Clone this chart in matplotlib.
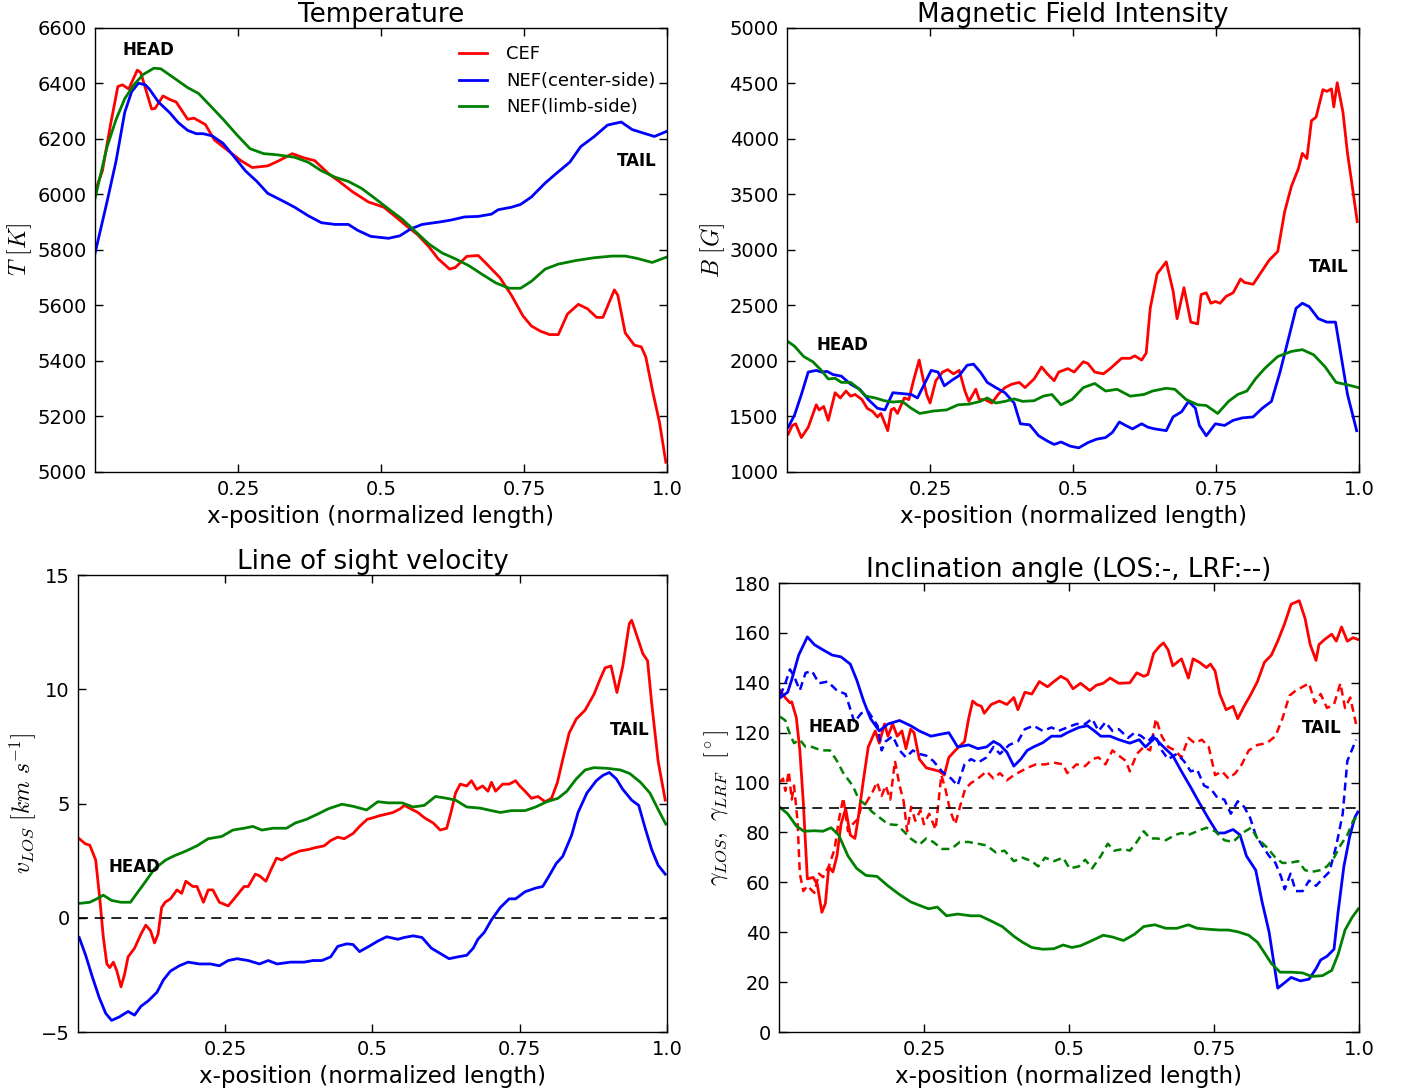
import numpy as np
import matplotlib
matplotlib.use("Agg")
import matplotlib.pyplot as plt

plt.rcParams['mathtext.fontset'] = 'cm'
plt.rcParams['font.family'] = 'DejaVu Sans'

# ---- Temperature (x, T[K]) ----
cef_T = [(0.0, 6010), (0.013, 6085), (0.027, 6250), (0.04, 6389), (0.048, 6395), (0.059, 6380),
         (0.074, 6448), (0.08, 6439), (0.099, 6308), (0.105, 6310), (0.119, 6355), (0.13, 6343),
         (0.142, 6333), (0.162, 6271), (0.173, 6275), (0.193, 6252), (0.209, 6196), (0.232, 6159),
         (0.255, 6122), (0.275, 6097), (0.302, 6103), (0.322, 6122), (0.345, 6147), (0.365, 6132),
         (0.384, 6122), (0.4, 6091), (0.41, 6072), (0.427, 6047), (0.45, 6010), (0.478, 5973),
         (0.505, 5954), (0.52, 5929), (0.545, 5886), (0.564, 5855), (0.584, 5811), (0.6, 5768),
         (0.62, 5731), (0.63, 5737), (0.65, 5777), (0.67, 5780), (0.685, 5749), (0.708, 5700),
         (0.728, 5637), (0.748, 5563), (0.763, 5526), (0.779, 5507), (0.795, 5495), (0.81, 5495),
         (0.826, 5569), (0.845, 5604), (0.861, 5588), (0.877, 5557), (0.888, 5557), (0.908, 5656),
         (0.914, 5637), (0.927, 5501), (0.943, 5457), (0.955, 5451), (0.963, 5414), (0.975, 5290),
         (0.987, 5178), (0.998, 5035)]
nefc_T = [(0.0, 5787), (0.021, 5973), (0.037, 6122), (0.052, 6296), (0.064, 6370), (0.076, 6401),
          (0.088, 6395), (0.095, 6380), (0.111, 6333), (0.13, 6296), (0.146, 6258), (0.162, 6231),
          (0.177, 6219), (0.189, 6219), (0.205, 6211), (0.224, 6184), (0.244, 6134), (0.263, 6085),
          (0.283, 6047), (0.302, 6004), (0.326, 5979), (0.349, 5954), (0.373, 5923), (0.396, 5898),
          (0.42, 5892), (0.443, 5892), (0.459, 5871), (0.482, 5849), (0.513, 5842), (0.533, 5851),
          (0.552, 5876), (0.572, 5892), (0.603, 5901), (0.623, 5908), (0.646, 5919), (0.67, 5921),
          (0.693, 5929), (0.705, 5945), (0.728, 5954), (0.744, 5964), (0.763, 5991), (0.787, 6041),
          (0.806, 6075), (0.83, 6116), (0.849, 6172), (0.873, 6209), (0.896, 6250), (0.92, 6261),
          (0.939, 6234), (0.959, 6221), (0.978, 6209), (0.999, 6227)]
nefl_T = [(0.0, 5985), (0.021, 6171), (0.037, 6271), (0.052, 6345), (0.068, 6395), (0.084, 6432),
          (0.103, 6455), (0.115, 6453), (0.138, 6420), (0.162, 6385), (0.181, 6364), (0.201, 6321),
          (0.224, 6271), (0.248, 6215), (0.271, 6165), (0.295, 6147), (0.318, 6143), (0.349, 6134),
          (0.373, 6116), (0.396, 6085), (0.42, 6062), (0.443, 6047), (0.466, 6022), (0.49, 5985),
          (0.513, 5948), (0.537, 5911), (0.56, 5867), (0.584, 5821), (0.607, 5789), (0.63, 5768),
          (0.654, 5743), (0.677, 5712), (0.701, 5681), (0.724, 5662), (0.744, 5662), (0.763, 5687),
          (0.787, 5731), (0.81, 5749), (0.841, 5762), (0.873, 5772), (0.904, 5778), (0.927, 5778),
          (0.947, 5770), (0.974, 5755), (0.999, 5774)]

# ---- Magnetic field (x, B[G]) ----
cef_B = [(0.002, 1341), (0.009, 1419), (0.015, 1434), (0.025, 1310), (0.037, 1403), (0.051, 1605),
         (0.056, 1559), (0.064, 1590), (0.072, 1465), (0.084, 1714), (0.093, 1667), (0.103, 1729),
         (0.111, 1683), (0.119, 1698), (0.131, 1652), (0.14, 1574), (0.15, 1543), (0.158, 1496),
         (0.164, 1527), (0.17, 1450), (0.176, 1372), (0.182, 1559), (0.187, 1574), (0.193, 1527),
         (0.205, 1667), (0.213, 1652), (0.221, 1822), (0.231, 2008), (0.236, 1884), (0.244, 1698),
         (0.25, 1621), (0.26, 1822), (0.272, 1900), (0.281, 1922), (0.291, 1884), (0.301, 1915),
         (0.311, 1729), (0.318, 1636), (0.33, 1745), (0.336, 1652), (0.346, 1652), (0.358, 1621),
         (0.369, 1698), (0.381, 1760), (0.393, 1791), (0.406, 1807), (0.416, 1760), (0.432, 1838),
         (0.445, 1946), (0.455, 1884), (0.467, 1822), (0.475, 1900), (0.491, 1931), (0.502, 1900),
         (0.518, 1993), (0.526, 1977), (0.538, 1900), (0.553, 1884), (0.565, 1931), (0.585, 2024),
         (0.6, 2024), (0.608, 2046), (0.62, 2008), (0.628, 2071), (0.635, 2474), (0.647, 2784),
         (0.663, 2893), (0.675, 2629), (0.682, 2381), (0.694, 2660), (0.706, 2350), (0.718, 2334),
         (0.724, 2598), (0.733, 2614), (0.741, 2520), (0.749, 2536), (0.757, 2520), (0.768, 2583),
         (0.78, 2614), (0.793, 2738), (0.8, 2707), (0.815, 2691), (0.827, 2784), (0.843, 2908),
         (0.858, 2986), (0.87, 3343), (0.882, 3575), (0.894, 3731), (0.901, 3870), (0.909, 3824),
         (0.917, 4165), (0.925, 4196), (0.937, 4444), (0.944, 4429), (0.952, 4451), (0.956, 4289),
         (0.962, 4506), (0.972, 4243), (0.98, 3870), (0.987, 3622), (0.997, 3256)]
nefc_B = [(0.002, 1403), (0.013, 1512), (0.025, 1698), (0.037, 1900), (0.051, 1915), (0.06, 1900),
          (0.07, 1906), (0.08, 1878), (0.095, 1863), (0.111, 1791), (0.127, 1745), (0.142, 1652),
          (0.158, 1574), (0.171, 1559), (0.185, 1714), (0.205, 1704), (0.217, 1698), (0.228, 1667),
          (0.24, 1791), (0.252, 1915), (0.264, 1900), (0.275, 1776), (0.287, 1822), (0.301, 1869),
          (0.315, 1962), (0.326, 1971), (0.338, 1900), (0.35, 1807), (0.365, 1760), (0.381, 1714),
          (0.397, 1621), (0.408, 1434), (0.424, 1425), (0.44, 1326), (0.455, 1279), (0.467, 1248),
          (0.479, 1270), (0.495, 1233), (0.51, 1217), (0.526, 1264), (0.541, 1295), (0.557, 1310),
          (0.569, 1357), (0.581, 1450), (0.592, 1419), (0.604, 1388), (0.62, 1434), (0.631, 1403),
          (0.643, 1388), (0.663, 1372), (0.675, 1496), (0.69, 1543), (0.702, 1636), (0.714, 1574),
          (0.721, 1419), (0.733, 1326), (0.749, 1434), (0.765, 1419), (0.78, 1465), (0.796, 1487),
          (0.815, 1496), (0.831, 1574), (0.847, 1636), (0.862, 1900), (0.878, 2226), (0.89, 2474),
          (0.901, 2520), (0.913, 2489), (0.929, 2381), (0.944, 2350), (0.959, 2350), (0.968, 2071),
          (0.98, 1698), (0.996, 1372)]
nefl_B = [(0.002, 2173), (0.013, 2133), (0.029, 2040), (0.045, 1993), (0.06, 1915), (0.072, 1838),
          (0.084, 1844), (0.095, 1807), (0.111, 1807), (0.123, 1760), (0.138, 1683), (0.154, 1667),
          (0.17, 1642), (0.185, 1630), (0.201, 1636), (0.217, 1574), (0.232, 1527), (0.256, 1549),
          (0.279, 1559), (0.299, 1605), (0.318, 1611), (0.338, 1636), (0.35, 1667), (0.365, 1621),
          (0.381, 1636), (0.397, 1658), (0.412, 1636), (0.432, 1642), (0.448, 1683), (0.463, 1698),
          (0.479, 1605), (0.498, 1652), (0.518, 1760), (0.538, 1797), (0.557, 1729), (0.577, 1745),
          (0.6, 1683), (0.624, 1698), (0.639, 1729), (0.663, 1754), (0.678, 1745), (0.698, 1652),
          (0.718, 1605), (0.733, 1599), (0.753, 1527), (0.772, 1636), (0.788, 1698), (0.804, 1729),
          (0.819, 1838), (0.835, 1931), (0.858, 2040), (0.882, 2086), (0.901, 2102), (0.921, 2055),
          (0.941, 1946), (0.96, 1807), (0.98, 1785), (0.999, 1760)]

# ---- LOS velocity (x, v[km/s]) ----
cef_v = [(0.002, 3.46), (0.013, 3.23), (0.02, 3.18), (0.03, 2.53), (0.037, 0.83), (0.043, -0.86),
         (0.049, -2.02), (0.054, -2.18), (0.06, -1.94), (0.066, -2.33), (0.073, -3.02), (0.079, -2.48),
         (0.085, -1.71), (0.096, -1.33), (0.107, -0.71), (0.115, -0.32), (0.123, -0.56), (0.13, -1.1),
         (0.136, -0.71), (0.142, 0.45), (0.148, 0.68), (0.157, 0.83), (0.168, 1.22), (0.176, 1.07),
         (0.183, 1.6), (0.195, 1.37), (0.202, 1.37), (0.213, 0.68), (0.221, 1.22), (0.229, 1.22),
         (0.24, 0.68), (0.255, 0.52), (0.27, 0.99), (0.282, 1.37), (0.289, 1.37), (0.301, 1.91),
         (0.308, 1.84), (0.319, 1.6), (0.327, 2.07), (0.337, 2.61), (0.346, 2.53), (0.361, 2.76),
         (0.376, 2.92), (0.391, 2.99), (0.403, 3.07), (0.418, 3.15), (0.429, 3.38), (0.441, 3.53),
         (0.452, 3.46), (0.467, 3.69), (0.478, 4.0), (0.491, 4.31), (0.501, 4.38), (0.511, 4.46),
         (0.524, 4.54), (0.535, 4.61), (0.547, 4.77), (0.554, 4.92), (0.565, 4.77), (0.577, 4.61),
         (0.588, 4.38), (0.603, 4.15), (0.615, 3.84), (0.626, 3.92), (0.634, 4.69), (0.641, 5.46),
         (0.649, 5.85), (0.66, 5.77), (0.668, 6.0), (0.677, 5.62), (0.687, 5.77), (0.696, 5.54),
         (0.702, 5.93), (0.709, 5.54), (0.721, 5.85), (0.732, 5.85), (0.743, 6.0), (0.75, 5.77),
         (0.759, 5.54), (0.77, 5.23), (0.781, 5.31), (0.793, 5.08), (0.804, 5.23), (0.814, 5.93),
         (0.823, 6.93), (0.834, 8.09), (0.846, 8.7), (0.861, 9.09), (0.876, 9.78), (0.887, 10.48),
         (0.895, 10.94), (0.905, 11.02), (0.915, 9.86), (0.925, 11.02), (0.936, 12.87), (0.94, 13.02),
         (0.948, 12.41), (0.959, 11.56), (0.967, 11.25), (0.974, 9.4), (0.985, 6.85), (0.997, 5.15)]
nefc_v = [(0.002, -0.86), (0.013, -1.64), (0.024, -2.56), (0.036, -3.49), (0.047, -4.18), (0.057, -4.49),
          (0.07, -4.34), (0.085, -4.1), (0.096, -4.26), (0.107, -3.87), (0.119, -3.64), (0.134, -3.26),
          (0.145, -2.72), (0.157, -2.33), (0.172, -2.1), (0.187, -1.94), (0.206, -2.02), (0.225, -2.02),
          (0.24, -2.1), (0.255, -1.87), (0.27, -1.79), (0.289, -1.87), (0.308, -2.02), (0.323, -1.87),
          (0.338, -2.02), (0.361, -1.94), (0.384, -1.94), (0.399, -1.87), (0.414, -1.87), (0.429, -1.71),
          (0.441, -1.25), (0.456, -1.14), (0.467, -1.17), (0.478, -1.48), (0.494, -1.25), (0.509, -1.02),
          (0.524, -0.83), (0.543, -0.94), (0.554, -0.86), (0.569, -0.79), (0.584, -0.86), (0.6, -1.33),
          (0.615, -1.56), (0.63, -1.79), (0.645, -1.71), (0.66, -1.64), (0.671, -1.33), (0.679, -0.94),
          (0.69, -0.63), (0.702, -0.09), (0.717, 0.45), (0.732, 0.83), (0.743, 0.83), (0.759, 1.14),
          (0.777, 1.3), (0.789, 1.37), (0.8, 1.84), (0.812, 2.38), (0.823, 2.69), (0.838, 3.61),
          (0.849, 4.61), (0.864, 5.46), (0.88, 6.0), (0.891, 6.23), (0.902, 6.36), (0.914, 6.08),
          (0.925, 5.62), (0.94, 5.15), (0.952, 4.92), (0.963, 3.92), (0.974, 2.99), (0.985, 2.3),
          (0.997, 1.91)]
nefl_v = [(0.002, 0.63), (0.02, 0.68), (0.032, 0.83), (0.043, 0.99), (0.057, 0.76), (0.073, 0.68),
          (0.089, 0.68), (0.1, 1.07), (0.115, 1.6), (0.13, 2.15), (0.149, 2.53), (0.164, 2.72),
          (0.183, 2.92), (0.202, 3.15), (0.221, 3.46), (0.244, 3.56), (0.263, 3.84), (0.282, 3.92),
          (0.297, 4.0), (0.312, 3.84), (0.331, 3.92), (0.354, 3.92), (0.369, 4.15), (0.388, 4.31),
          (0.407, 4.54), (0.425, 4.77), (0.448, 4.97), (0.467, 4.88), (0.49, 4.72), (0.509, 5.08),
          (0.527, 5.03), (0.55, 5.03), (0.569, 4.85), (0.588, 4.92), (0.607, 5.31), (0.626, 5.23),
          (0.641, 5.15), (0.66, 4.85), (0.683, 4.8), (0.702, 4.69), (0.717, 4.61), (0.736, 4.69),
          (0.759, 4.69), (0.777, 4.85), (0.796, 5.08), (0.815, 5.23), (0.83, 5.54), (0.846, 6.08),
          (0.861, 6.47), (0.876, 6.57), (0.899, 6.54), (0.921, 6.47), (0.937, 6.31), (0.955, 5.93),
          (0.971, 5.46), (0.986, 4.69), (0.998, 4.1)]

# ---- Inclination (x, gamma[deg]); solid = LOS, dashed = LRF ----
cef_g_los = [(0.002, 137.0), (0.011, 134.0), (0.019, 132.0), (0.022, 132.4), (0.03, 126.0), (0.036, 113.0),
             (0.042, 92.0), (0.049, 61.4), (0.059, 62.0), (0.066, 59.3), (0.074, 48.0), (0.08, 51.5),
             (0.086, 66.3), (0.093, 64.2), (0.1, 70.6), (0.107, 83.3), (0.115, 89.6), (0.123, 79.0),
             (0.131, 77.6), (0.136, 84.7), (0.146, 101.6), (0.154, 114.3), (0.166, 120.7), (0.173, 115.8),
             (0.182, 123.5), (0.188, 118.6), (0.196, 123.5), (0.204, 118.6), (0.212, 120.7), (0.219, 113.6),
             (0.227, 121.4), (0.233, 120.0), (0.242, 109.4), (0.254, 105.9), (0.266, 105.2), (0.277, 104.5),
             (0.285, 103.0), (0.293, 110.1), (0.304, 112.9), (0.32, 116.5), (0.327, 125.6), (0.334, 132.7),
             (0.341, 131.3), (0.349, 130.6), (0.354, 127.8), (0.366, 131.3), (0.38, 132.7), (0.393, 131.3),
             (0.405, 134.1), (0.412, 129.2), (0.424, 136.2), (0.436, 135.5), (0.449, 140.5), (0.463, 138.4),
             (0.474, 140.5), (0.486, 142.6), (0.497, 141.2), (0.507, 137.6), (0.52, 139.8), (0.536, 136.9),
             (0.547, 139.0), (0.559, 139.8), (0.571, 141.9), (0.586, 139.8), (0.605, 140.0), (0.617, 144.0),
             (0.629, 142.6), (0.636, 143.3), (0.646, 151.8), (0.656, 154.6), (0.663, 156.0), (0.671, 153.2),
             (0.679, 146.8), (0.694, 149.6), (0.706, 141.9), (0.714, 149.6), (0.725, 148.2), (0.737, 146.1),
             (0.744, 147.5), (0.752, 144.7), (0.76, 135.5), (0.771, 129.2), (0.783, 130.6), (0.791, 125.6),
             (0.802, 130.6), (0.814, 135.5), (0.825, 140.5), (0.837, 148.2), (0.849, 151.1), (0.86, 156.7),
             (0.872, 163.8), (0.883, 171.5), (0.897, 172.9), (0.907, 165.9), (0.916, 155.3), (0.926, 149.0),
             (0.931, 155.3), (0.941, 157.4), (0.953, 159.5), (0.961, 156.7), (0.97, 162.4), (0.98, 156.7),
             (0.99, 158.1), (0.998, 157.4)]
cef_g_lrf = [(0.002, 100.2), (0.007, 101.6), (0.011, 96.7), (0.017, 104.5), (0.022, 93.2), (0.026, 98.8),
             (0.032, 84.7), (0.036, 63.5), (0.042, 56.5), (0.049, 58.6), (0.061, 55.8), (0.069, 63.5),
             (0.076, 62.1), (0.086, 66.4), (0.096, 73.4), (0.103, 84.7), (0.111, 93.9), (0.119, 80.5),
             (0.127, 83.3), (0.136, 85.4), (0.142, 90.3), (0.15, 91.8), (0.161, 96.0), (0.169, 100.2),
             (0.177, 94.6), (0.184, 98.8), (0.192, 93.2), (0.2, 108.7), (0.208, 98.8), (0.215, 92.5),
             (0.221, 80.5), (0.228, 90.3), (0.235, 84.7), (0.244, 88.9), (0.25, 83.3), (0.259, 87.5),
             (0.27, 81.2), (0.28, 103.0), (0.287, 97.4), (0.295, 88.9), (0.304, 83.3), (0.312, 90.3),
             (0.321, 97.4), (0.331, 99.8), (0.343, 101.6), (0.358, 104.5), (0.37, 101.6), (0.381, 103.8),
             (0.393, 100.9), (0.405, 103.0), (0.417, 104.5), (0.428, 105.9), (0.443, 107.3), (0.459, 107.3),
             (0.474, 108.0), (0.49, 107.3), (0.497, 103.8), (0.513, 107.3), (0.528, 106.6), (0.54, 109.4),
             (0.551, 110.1), (0.563, 107.3), (0.575, 112.9), (0.586, 110.8), (0.598, 108.7), (0.605, 104.5),
             (0.617, 111.5), (0.629, 114.3), (0.64, 112.9), (0.65, 125.6), (0.66, 118.6), (0.671, 114.3),
             (0.683, 112.9), (0.694, 110.1), (0.706, 117.9), (0.717, 115.8), (0.729, 117.2), (0.741, 114.3),
             (0.752, 103.0), (0.764, 104.5), (0.775, 101.6), (0.787, 103.8), (0.798, 107.3), (0.81, 112.9),
             (0.825, 115.1), (0.841, 115.8), (0.856, 118.6), (0.868, 125.6), (0.88, 134.8), (0.891, 136.9),
             (0.903, 138.4), (0.914, 139.8), (0.924, 132.0), (0.934, 135.5), (0.945, 129.9), (0.957, 131.3),
             (0.968, 139.8), (0.976, 129.9), (0.985, 134.1), (0.995, 123.5)]
nefc_g_los = [(0.002, 134.0), (0.015, 136.2), (0.022, 141.2), (0.034, 151.1), (0.049, 158.4), (0.061, 155.3),
              (0.076, 153.2), (0.092, 151.1), (0.107, 150.4), (0.123, 147.5), (0.134, 141.2), (0.146, 132.7),
              (0.158, 125.6), (0.173, 120.7), (0.188, 123.5), (0.208, 124.9), (0.227, 122.8), (0.242, 120.7),
              (0.262, 118.6), (0.277, 119.3), (0.293, 120.0), (0.308, 114.3), (0.327, 115.1), (0.343, 113.6),
              (0.358, 114.3), (0.37, 116.5), (0.381, 115.1), (0.393, 112.2), (0.405, 106.6), (0.417, 109.4),
              (0.428, 112.9), (0.439, 114.3), (0.455, 116.0), (0.47, 118.6), (0.486, 118.6), (0.497, 120.0),
              (0.517, 122.1), (0.532, 122.8), (0.544, 120.7), (0.555, 118.6), (0.571, 118.6), (0.586, 117.2),
              (0.605, 115.8), (0.621, 117.2), (0.632, 114.3), (0.648, 117.9), (0.663, 114.3), (0.679, 110.8),
              (0.694, 104.5), (0.71, 98.1), (0.725, 91.8), (0.741, 85.4), (0.756, 79.8), (0.768, 79.8),
              (0.783, 81.2), (0.795, 79.0), (0.806, 70.6), (0.822, 64.9), (0.833, 52.2), (0.845, 40.2),
              (0.86, 17.6), (0.872, 19.8), (0.883, 21.9), (0.899, 20.5), (0.914, 21.2), (0.926, 25.4),
              (0.934, 28.9), (0.945, 30.4), (0.957, 33.2), (0.964, 48.0), (0.974, 66.4), (0.984, 78.3),
              (0.993, 86.1), (0.998, 88.2)]
nefc_g_lrf = [(0.002, 134.8), (0.011, 139.8), (0.019, 145.4), (0.026, 142.6), (0.036, 137.0), (0.046, 144.0),
              (0.057, 144.7), (0.069, 139.8), (0.084, 140.5), (0.1, 136.9), (0.115, 135.5), (0.13, 124.2),
              (0.142, 127.8), (0.154, 128.5), (0.17, 122.8), (0.177, 112.9), (0.184, 116.5), (0.196, 118.6),
              (0.208, 112.9), (0.219, 110.1), (0.231, 112.9), (0.242, 111.5), (0.254, 110.8), (0.266, 108.7),
              (0.281, 104.5), (0.297, 101.6), (0.308, 98.8), (0.32, 107.3), (0.331, 109.4), (0.343, 108.0),
              (0.358, 110.1), (0.37, 114.3), (0.381, 111.5), (0.397, 115.1), (0.412, 116.5), (0.424, 121.4),
              (0.439, 122.8), (0.455, 120.7), (0.47, 122.1), (0.482, 120.7), (0.497, 122.1), (0.513, 123.5),
              (0.528, 123.5), (0.54, 125.6), (0.551, 120.7), (0.563, 124.2), (0.575, 120.7), (0.586, 121.4),
              (0.602, 117.9), (0.613, 120.0), (0.625, 118.6), (0.636, 116.5), (0.648, 119.3), (0.66, 112.9),
              (0.671, 109.4), (0.686, 111.5), (0.698, 108.7), (0.71, 104.5), (0.721, 105.2), (0.733, 98.8),
              (0.745, 97.4), (0.756, 93.9), (0.768, 93.2), (0.779, 87.5), (0.791, 92.5), (0.802, 90.3),
              (0.812, 86.1), (0.822, 79.0), (0.833, 74.8), (0.845, 70.6), (0.856, 67.8), (0.866, 62.1),
              (0.872, 57.2), (0.882, 63.5), (0.891, 56.5), (0.903, 56.5), (0.914, 60.7), (0.926, 58.6),
              (0.937, 61.4), (0.949, 64.2), (0.961, 74.8), (0.972, 87.5), (0.98, 108.7), (0.99, 114.3),
              (0.995, 117.2)]
nefl_g_los = [(0.002, 90.0), (0.015, 87.5), (0.03, 82.6), (0.043, 80.5), (0.061, 80.7), (0.076, 80.5),
              (0.09, 81.9), (0.103, 79.0), (0.119, 70.6), (0.134, 65.6), (0.15, 62.8), (0.169, 62.4),
              (0.188, 58.6), (0.208, 55.1), (0.227, 52.2), (0.242, 50.8), (0.258, 49.4), (0.273, 50.1),
              (0.289, 46.6), (0.308, 47.3), (0.331, 46.6), (0.347, 46.6), (0.366, 44.5), (0.385, 42.3),
              (0.405, 38.4), (0.42, 36.0), (0.436, 33.9), (0.455, 33.2), (0.474, 33.4), (0.49, 34.9),
              (0.505, 33.9), (0.52, 34.6), (0.54, 36.7), (0.559, 38.8), (0.575, 38.1), (0.594, 36.7),
              (0.613, 39.2), (0.629, 42.3), (0.648, 43.0), (0.667, 41.6), (0.686, 41.6), (0.706, 43.0),
              (0.721, 41.6), (0.741, 41.2), (0.76, 40.9), (0.775, 40.9), (0.791, 40.2), (0.81, 38.8),
              (0.825, 36.0), (0.837, 31.8), (0.849, 27.5), (0.864, 24.0), (0.883, 24.0), (0.903, 23.7),
              (0.918, 22.3), (0.937, 22.6), (0.953, 24.7), (0.964, 31.1), (0.976, 40.9), (0.988, 45.9),
              (0.999, 49.4)]
nefl_g_lrf = [(0.002, 126.4), (0.011, 124.9), (0.019, 119.3), (0.026, 115.8), (0.036, 117.2), (0.046, 114.3),
              (0.057, 114.3), (0.073, 112.9), (0.088, 112.9), (0.1, 108.7), (0.111, 103.8), (0.127, 98.8),
              (0.138, 93.2), (0.15, 91.0), (0.161, 88.2), (0.173, 86.1), (0.188, 83.3), (0.204, 83.0),
              (0.215, 80.5), (0.227, 77.6), (0.242, 75.1), (0.254, 77.6), (0.266, 76.2), (0.281, 73.4),
              (0.297, 73.4), (0.312, 76.2), (0.327, 76.2), (0.343, 75.5), (0.358, 74.8), (0.374, 72.0),
              (0.389, 72.7), (0.405, 68.5), (0.42, 69.9), (0.436, 68.5), (0.447, 66.4), (0.459, 69.9),
              (0.474, 68.5), (0.49, 69.9), (0.501, 65.6), (0.517, 66.4), (0.528, 69.1), (0.54, 65.6),
              (0.555, 70.6), (0.567, 75.5), (0.578, 72.7), (0.594, 73.4), (0.605, 72.7), (0.617, 76.2),
              (0.629, 80.5), (0.64, 77.6), (0.652, 77.6), (0.667, 76.9), (0.683, 79.0), (0.694, 79.8),
              (0.706, 79.0), (0.721, 80.5), (0.737, 81.9), (0.752, 80.5), (0.768, 76.9), (0.783, 76.2),
              (0.799, 79.8), (0.814, 81.9), (0.825, 77.6), (0.841, 74.1), (0.856, 69.9), (0.868, 67.8),
              (0.88, 67.8), (0.895, 68.5), (0.907, 64.9), (0.918, 64.2), (0.934, 64.9), (0.945, 66.4),
              (0.957, 69.9), (0.968, 74.8), (0.98, 79.0), (0.99, 84.7), (0.998, 86.8)]

labels = ['CEF', 'NEF(center-side)', 'NEF(limb-side)']
colors = ['r', 'b', 'g']
xticks = [0.25, 0.5, 0.75, 1.0]
xticklabels = ['0.25', '0.5', '0.75', '1.0']


def xy(series):
    a = np.array(series, dtype=float)
    return a[:, 0], a[:, 1]


def style(ax, title, ylabel, ylim, yticks):
    ax.set_xlim(0, 1)
    ax.set_ylim(*ylim)
    ax.set_xticks(xticks)
    ax.set_xticklabels(xticklabels)
    ax.set_yticks(yticks)
    ax.tick_params(direction='in', top=True, right=True, length=6, width=1,
                   labelsize=14, pad=6)
    ax.set_title(title, fontsize=18.8, pad=4)
    ax.set_xlabel('x-position (normalized length)', fontsize=16.6)
    ax.set_ylabel(ylabel, fontsize=17, labelpad=2)
    for s in ax.spines.values():
        s.set_linewidth(1)


fig = plt.figure(figsize=(14.03, 10.92), dpi=100)
ax1 = fig.add_axes([0.0677, 0.5678, 0.4077, 0.4066])
ax2 = fig.add_axes([0.5610, 0.5678, 0.4076, 0.4066])
ax3 = fig.add_axes([0.0556, 0.0549, 0.4198, 0.4185])
ax4 = fig.add_axes([0.5552, 0.0549, 0.4134, 0.4112])

# Temperature
for s, c, lab in zip([cef_T, nefc_T, nefl_T], colors, labels):
    x, y = xy(s)
    ax1.plot(x, y, color=c, lw=2, label=lab)
style(ax1, 'Temperature', r'$T\ [K]$', (5000, 6600), np.arange(5000, 6601, 200))
ax1.legend(loc='upper right', bbox_to_anchor=(0.993, 0.977), frameon=False, fontsize=13,
           handlelength=1.5, handletextpad=1.1, labelspacing=0.47, borderaxespad=0)
ax1.text(0.093, 6519, 'HEAD', fontsize=12, fontweight='bold', ha='center', va='center')
ax1.text(0.948, 6119, 'TAIL', fontsize=12, fontweight='bold', ha='center', va='center')

# Magnetic field
for s, c in zip([cef_B, nefc_B, nefl_B], colors):
    x, y = xy(s)
    ax2.plot(x, y, color=c, lw=2)
style(ax2, 'Magnetic Field Intensity', r'$B\ [G]$', (1000, 5000), np.arange(1000, 5001, 500))
ax2.text(0.096, 2148, 'HEAD', fontsize=12, fontweight='bold', ha='center', va='center')
ax2.text(0.947, 2846, 'TAIL', fontsize=12, fontweight='bold', ha='center', va='center')

# LOS velocity
for s, c in zip([cef_v, nefc_v, nefl_v], colors):
    x, y = xy(s)
    ax3.plot(x, y, color=c, lw=2)
ax3.axhline(0, color='k', lw=1.2, ls=(0, (6, 4)))
style(ax3, 'Line of sight velocity', r'$v_{LOS}\ [km\ s^{-1}]$', (-5, 15), [-5, 0, 5, 10, 15])
ax3.text(0.095, 2.22, 'HEAD', fontsize=12, fontweight='bold', ha='center', va='center')
ax3.text(0.936, 8.24, 'TAIL', fontsize=12, fontweight='bold', ha='center', va='center')

# Inclination
for s_los, s_lrf, c in zip([cef_g_los, nefc_g_los, nefl_g_los],
                           [cef_g_lrf, nefc_g_lrf, nefl_g_lrf], colors):
    x, y = xy(s_los)
    ax4.plot(x, y, color=c, lw=2)
    x, y = xy(s_lrf)
    ax4.plot(x, y, color=c, lw=1.8, ls=(0, (3.2, 2.0)))
ax4.axhline(90, color='k', lw=1.2, ls=(0, (6, 4)))
style(ax4, 'Inclination angle (LOS:-, LRF:--)', r'$\gamma_{LOS},\ \gamma_{LRF}\ \ [^\circ]$',
      (0, 180), np.arange(0, 181, 20))
ax4.text(0.096, 122.1, 'HEAD', fontsize=12, fontweight='bold', ha='center', va='center')
ax4.text(0.936, 121.8, 'TAIL', fontsize=12, fontweight='bold', ha='center', va='center')

fig.savefig('out.png', dpi=100, facecolor='white')
